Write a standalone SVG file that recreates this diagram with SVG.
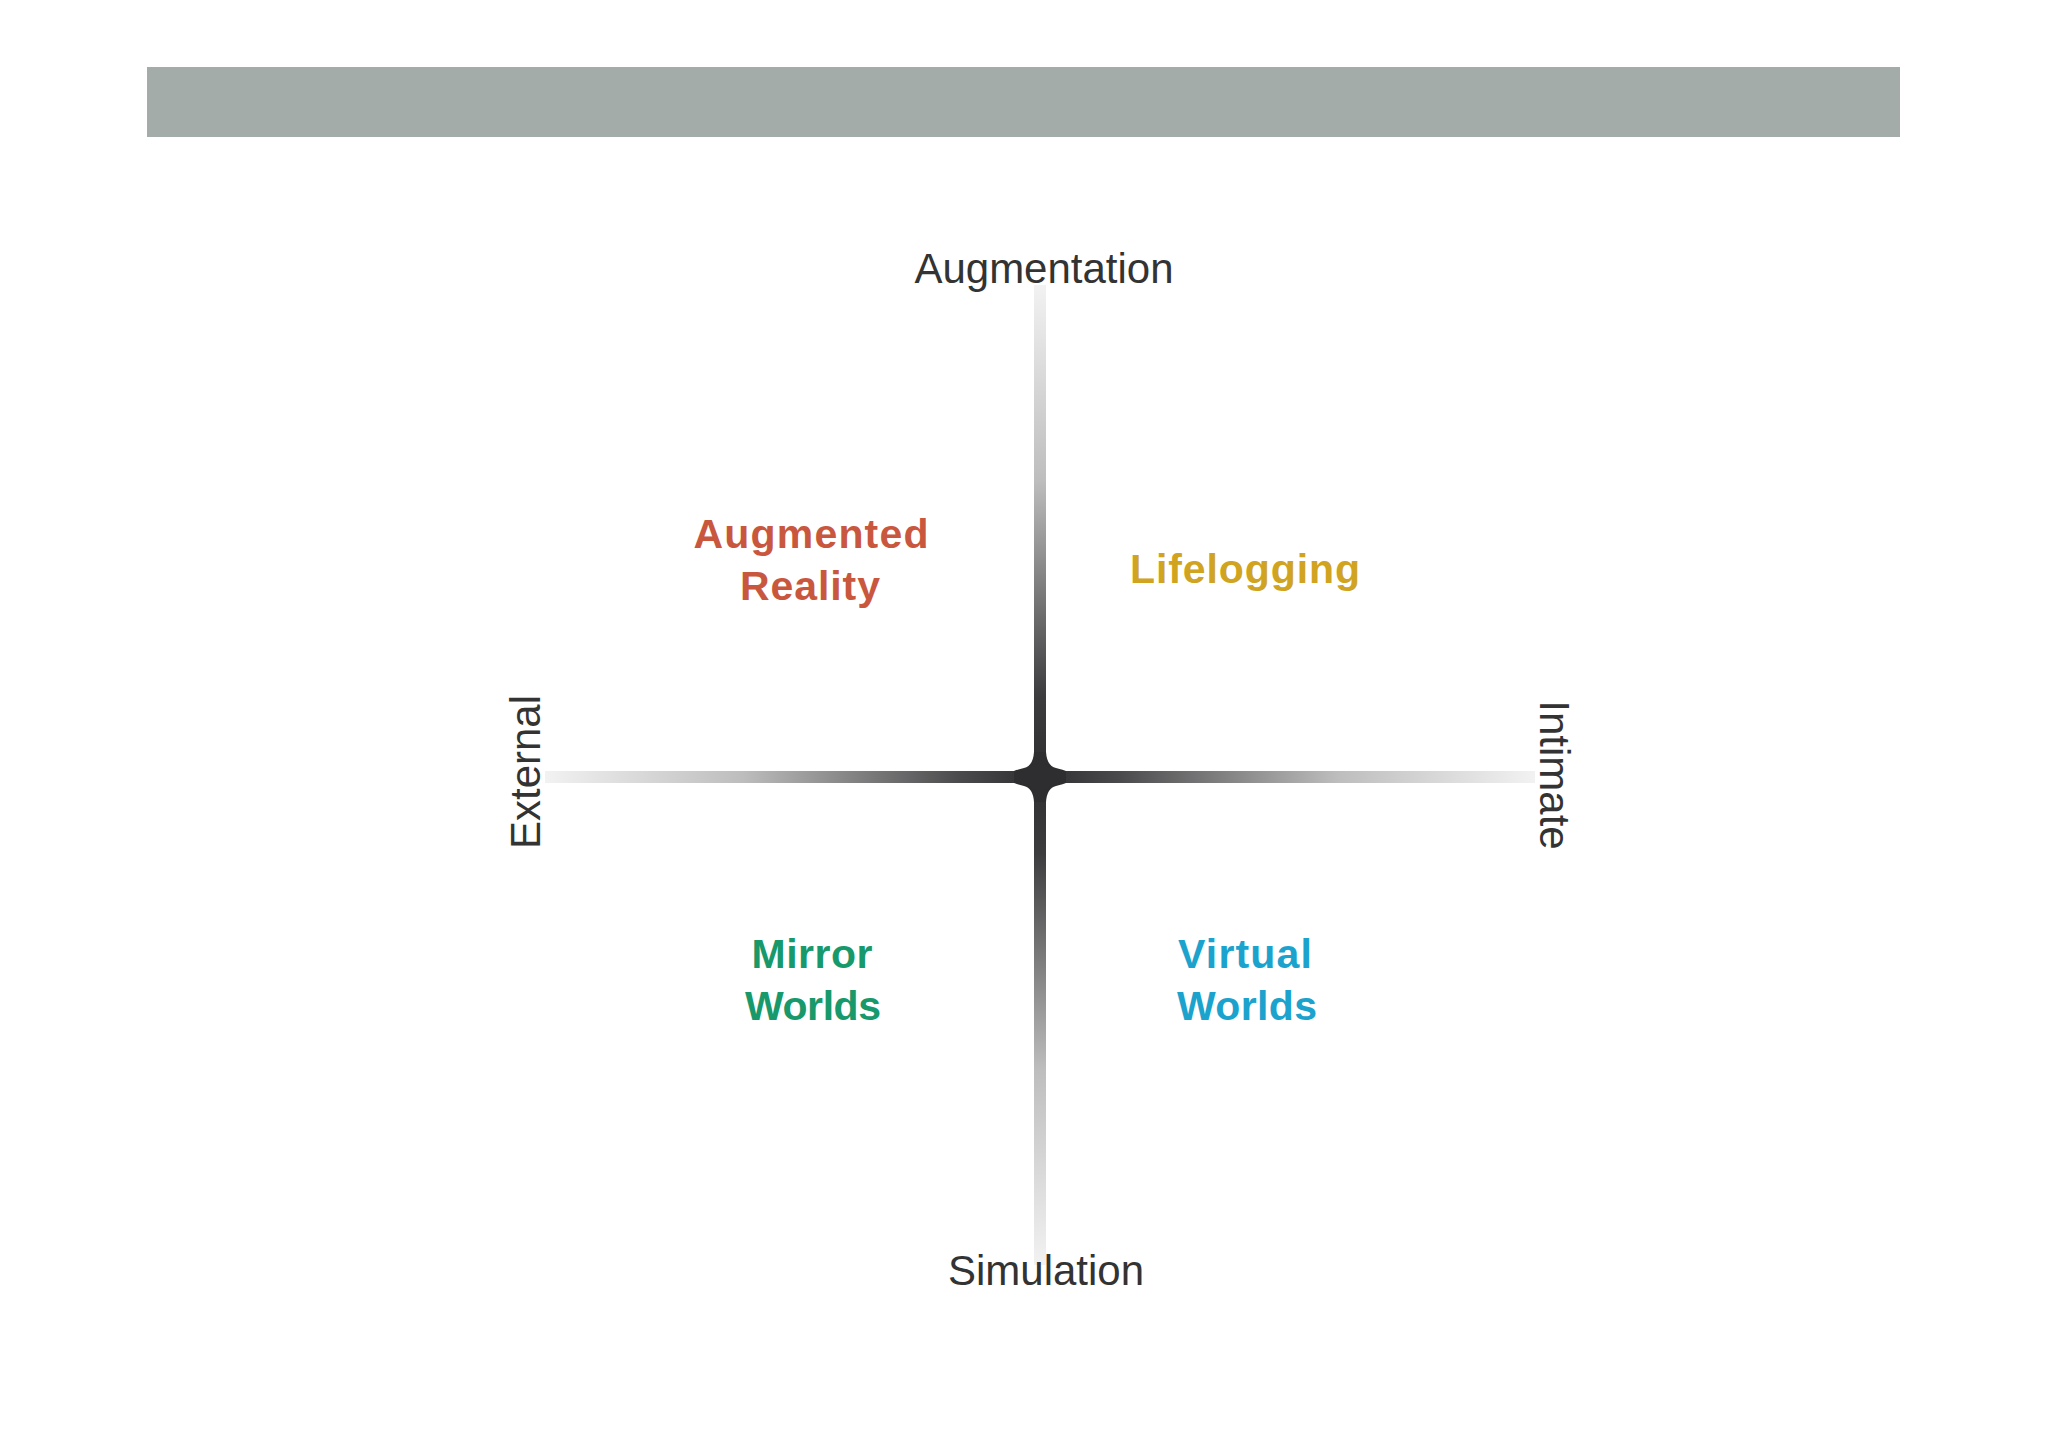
<svg xmlns="http://www.w3.org/2000/svg" width="2048" height="1447" viewBox="0 0 2048 1447">
<defs>
<style>
.axis{font-family:"Liberation Sans",Arial,sans-serif;font-size:42px;fill:#333;text-anchor:middle}
.q{font-family:"Liberation Sans",Arial,sans-serif;font-size:41px;font-weight:bold;text-anchor:middle}
</style>
<linearGradient id="gv" gradientUnits="userSpaceOnUse" x1="0" y1="285" x2="0" y2="1265">
<stop offset="0" stop-color="#f2f2f2"/>
<stop offset="0.2" stop-color="#bdbdbd"/>
<stop offset="0.42" stop-color="#3c3c3e"/>
<stop offset="0.5" stop-color="#2e2e30"/>
<stop offset="0.58" stop-color="#3c3c3e"/>
<stop offset="0.8" stop-color="#bdbdbd"/>
<stop offset="1" stop-color="#f2f2f2"/>
</linearGradient>
<linearGradient id="gh" gradientUnits="userSpaceOnUse" x1="545" y1="0" x2="1535" y2="0">
<stop offset="0" stop-color="#f2f2f2"/>
<stop offset="0.2" stop-color="#bdbdbd"/>
<stop offset="0.42" stop-color="#4a4a4c"/>
<stop offset="0.5" stop-color="#2e2e30"/>
<stop offset="0.58" stop-color="#4a4a4c"/>
<stop offset="0.8" stop-color="#bdbdbd"/>
<stop offset="1" stop-color="#f2f2f2"/>
</linearGradient>
</defs>
<rect width="2048" height="1447" fill="#ffffff"/>
<rect id="header" x="147" y="67" width="1753" height="70" fill="#a3aca8"/>
<g id="connectors">
<rect x="1034" y="285" width="12" height="980" fill="url(#gv)"/>
<rect x="545" y="771" width="990" height="12" fill="url(#gh)"/>
<path d="M1034 752 L1046 752 Q1047 766 1056 768 Q1064 770 1066 771 L1066 783 Q1064 784 1056 786 Q1047 788 1046 802 L1034 802 Q1033 788 1024 786 Q1016 784 1014 783 L1014 771 Q1016 770 1024 768 Q1033 766 1034 752 Z" fill="#2e2e30"/>
<circle cx="1040" cy="777" r="14" fill="#2e2e30"/>
</g>
<g id="augmentation"><text class="axis" x="1044" y="283">Augmentation</text></g>
<g id="simulation"><text class="axis" x="1046" y="1285">Simulation</text></g>
<g id="external"><text class="axis" transform="translate(540 772) rotate(-90)">External</text></g>
<g id="intimate"><text class="axis" transform="translate(1540 775) rotate(90)">Intimate</text></g>
<g id="augmented-reality" fill="#c9573e">
<text class="q" x="811" y="548" textLength="235">Augmented</text>
<text class="q" x="810" y="600" textLength="140">Reality</text>
</g>
<g id="lifelogging" fill="#d0a320"><text class="q" x="1245" y="583" textLength="230">Lifelogging</text></g>
<g id="mirror-worlds" fill="#17996b">
<text class="q" x="812" y="968" textLength="121">Mirror</text>
<text class="q" x="813" y="1020" textLength="136">Worlds</text>
</g>
<g id="virtual-worlds" fill="#1ba3cd">
<text class="q" x="1245" y="968" textLength="134">Virtual</text>
<text class="q" x="1247" y="1020" textLength="140">Worlds</text>
</g>
</svg>
